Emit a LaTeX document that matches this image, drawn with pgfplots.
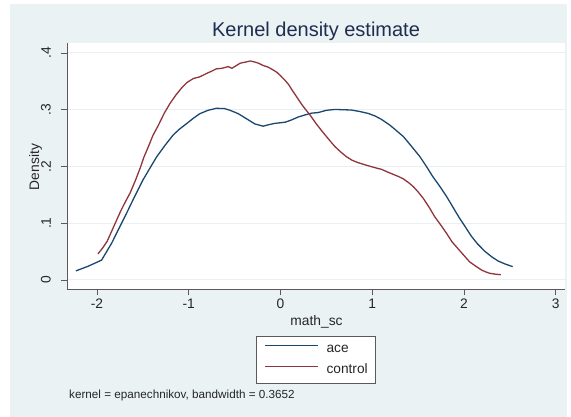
\documentclass[border=0pt]{standalone}
\usepackage{pgfplots}
\pgfplotsset{compat=1.18}
\usepackage{graphicx}
\usepackage{fontspec}
\setmainfont{Liberation Sans}
\definecolor{bgcol}{RGB}{234,242,243}
\definecolor{gridcol}{RGB}{232,240,243}
\definecolor{acecol}{RGB}{26,71,111}
\definecolor{concol}{RGB}{144,53,59}
\definecolor{titlecol}{RGB}{30,45,80}
\definecolor{axcol}{RGB}{90,90,90}
\begin{document}
\begin{tikzpicture}
\path[use as bounding box] (0pt,0pt) rectangle (571pt,-417pt);
\fill[white] (0pt,0pt) rectangle (571pt,-417pt);
\fill[bgcol] (10pt,-4pt) rectangle (567pt,-417pt);
\begin{axis}[
  at={(67pt,-289pt)}, anchor=south west,
  scale only axis, width=498pt, height=246pt,
  xmin=-2.327, xmax=3.1, ymin=-0.0159, ymax=0.4176,
  axis background/.style={fill=white},
  axis x line*=bottom, axis y line*=left,
  axis line style={-, draw=axcol, line width=0.8pt},
  xtick={-2,-1,0,1,2,3}, xticklabels={-2,-1,0,1,2,3},
  ytick={0,0.1,0.2,0.3,0.4},
  yticklabels={\rotatebox{90}{0},\rotatebox{90}{.1},\rotatebox{90}{.2},\rotatebox{90}{.3},\rotatebox{90}{.4}},
  tick align=outside, major tick length=6pt,
  tick style={draw=axcol, line width=0.8pt},
  ymajorgrids, major grid style={draw=gridcol, line width=1pt},
  ticklabel style={font=\fontsize{13.8}{16}\selectfont, text=black!85},
  yticklabel style={anchor=east, inner sep=0pt, xshift=-10pt},
  legend style={at={(0.5,-0.191)}, anchor=north, draw=axcol, line width=0.6pt,
    fill=white, font=\fontsize{13.7}{16}\selectfont, text=black!85,
    nodes={inner sep=0pt, text height=10pt, text depth=3pt},
    inner xsep=8pt, inner ysep=6.5pt, row sep=8pt, column sep=8pt},
  legend cell align=left,
  legend image code/.code={\draw[#1, line width=1.3pt] (0pt,3.5pt) -- (53pt,3.5pt);},
]
\addplot[acecol, line width=1.3pt] coordinates {
(-2.23,0.016) (-2.1,0.024) (-1.95,0.035) (-1.84,0.065) (-1.76,0.091) (-1.68,0.117)
(-1.59,0.147) (-1.50,0.176) (-1.42,0.198) (-1.35,0.217) (-1.26,0.237) (-1.17,0.2555)
(-1.10,0.266) (-1.02,0.276) (-0.95,0.285) (-0.88,0.293) (-0.79,0.299) (-0.70,0.3025)
(-0.61,0.302) (-0.55,0.299) (-0.46,0.293) (-0.37,0.284) (-0.28,0.275) (-0.19,0.271)
(-0.12,0.274) (-0.06,0.276) (0.05,0.278) (0.12,0.282) (0.19,0.287) (0.27,0.291)
(0.34,0.294) (0.41,0.295) (0.50,0.299) (0.59,0.3005) (0.68,0.300) (0.77,0.2995)
(0.86,0.297) (0.955,0.2935) (1.03,0.289) (1.10,0.283) (1.19,0.273) (1.25,0.265)
(1.34,0.2525) (1.43,0.235) (1.52,0.217) (1.59,0.2) (1.66,0.182) (1.74,0.164)
(1.81,0.147) (1.88,0.128) (1.95,0.109) (2.02,0.092) (2.08,0.077) (2.15,0.063)
(2.23,0.050) (2.30,0.041) (2.37,0.0335) (2.45,0.028) (2.53,0.0235)
};
\addlegendentry{ace}
\addplot[concol, line width=1.3pt] coordinates {
(-1.99,0.046) (-1.94,0.056) (-1.89,0.068) (-1.84,0.086) (-1.785,0.106) (-1.74,0.122)
(-1.69,0.138) (-1.64,0.153) (-1.58,0.176) (-1.53,0.197) (-1.49,0.216) (-1.44,0.235)
(-1.39,0.255) (-1.33,0.273) (-1.27,0.293) (-1.205,0.311) (-1.14,0.326) (-1.08,0.338)
(-1.02,0.348) (-0.95,0.355) (-0.88,0.358) (-0.805,0.364) (-0.75,0.368) (-0.70,0.372)
(-0.64,0.373) (-0.57,0.376) (-0.53,0.373) (-0.48,0.378) (-0.44,0.382) (-0.38,0.384)
(-0.33,0.386) (-0.28,0.384) (-0.24,0.382) (-0.19,0.378) (-0.134,0.375) (-0.09,0.371)
(-0.04,0.366) (0.0,0.36) (0.048,0.352) (0.09,0.344) (0.121,0.336) (0.17,0.324)
(0.23,0.3096) (0.27,0.301) (0.32,0.291) (0.39,0.275) (0.465,0.2596) (0.53,0.247)
(0.593,0.235) (0.66,0.225) (0.72,0.217) (0.78,0.211) (0.846,0.2067) (0.92,0.203)
(0.99,0.1997) (1.05,0.197) (1.10,0.195) (1.17,0.19) (1.23,0.186) (1.29,0.182)
(1.34,0.178) (1.40,0.171) (1.45,0.164) (1.50,0.155) (1.555,0.144) (1.62,0.128)
(1.68,0.1115) (1.75,0.096) (1.81,0.082) (1.87,0.067) (1.94,0.054) (2.0,0.043)
(2.06,0.032) (2.13,0.024) (2.19,0.0176) (2.24,0.014) (2.28,0.0118) (2.34,0.0102)
(2.40,0.0093)
};
\addlegendentry{control}
\end{axis}
\node[anchor=base, inner sep=0pt, font=\fontsize{20}{24}\selectfont, text=titlecol] at (316pt,-37pt) {Kernel density estimate};
\node[anchor=base, inner sep=0pt, font=\fontsize{13.8}{16}\selectfont, text=black!85] at (316.5pt,-325pt) {math\_sc};
\node[anchor=base, rotate=90, inner sep=0pt, font=\fontsize{13.8}{16}\selectfont, text=black!85] at (39pt,-167pt) {Density};
\node[anchor=base west, inner sep=0pt, font=\fontsize{11.7}{14}\selectfont, text=black!85] at (69pt,-398.5pt) {kernel = epanechnikov, bandwidth = 0.3652};
\end{tikzpicture}
\end{document}
